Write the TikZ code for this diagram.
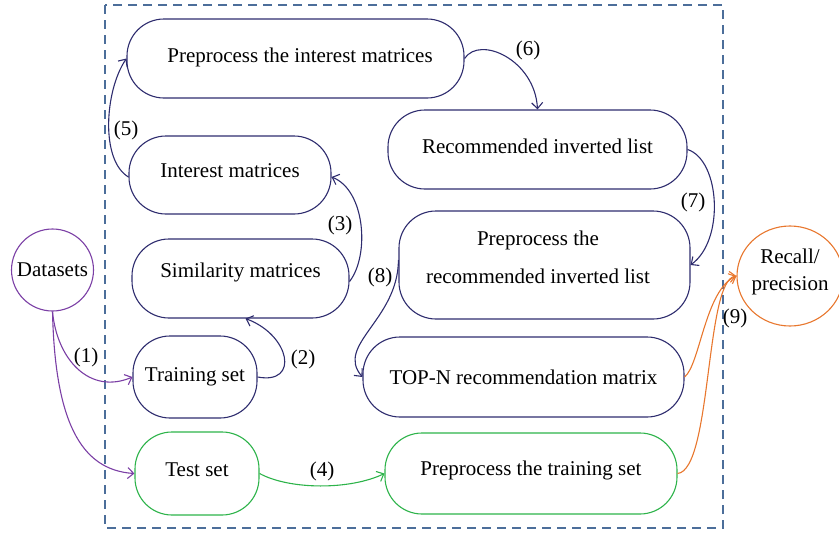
\documentclass[tikz,border=0pt]{standalone}
\usepackage{fontspec}
\setmainfont{Liberation Serif}
\usetikzlibrary{arrows.meta,shapes.geometric}
\definecolor{navy}{HTML}{2E2C6E}
\definecolor{grn}{HTML}{2DB34A}
\definecolor{purp}{HTML}{7B3FA5}
\definecolor{orng}{HTML}{E8772E}
\definecolor{dashc}{HTML}{4C6E9A}
\tikzset{
  box/.style={draw=#1, line width=1.1pt, rounded corners=37pt, inner sep=0pt},
  txt/.style={inner sep=0pt, align=center, font=\fontsize{21}{38}\selectfont, text=black},
  lbl/.style={inner sep=0pt, font=\fontsize{21}{25}\selectfont, text=black},
  conn/.style={draw=#1, line width=1.1pt, -{Straight Barb[length=6pt,width=11pt]}},
}
\begin{document}
\begin{tikzpicture}[x=1pt,y=-1pt]
\useasboundingbox (0,0) rectangle (839,533);
% dashed frame
\draw[dashc, line width=1.2pt, dash pattern=on 9pt off 6pt] (105,5) rectangle (723,528);
% boxes
\node[box=navy, minimum width=337pt, minimum height=79pt] (pim) at (295.5,58.5) {};
\node[txt] (pimt) at (300,57) {Preprocess the interest matrices};
\node[box=navy, minimum width=202pt, minimum height=78pt] (im) at (230,175) {};
\node[txt] (imt) at (230,171) {Interest matrices};
\node[box=navy, minimum width=217pt, minimum height=79pt] (sm) at (240.5,278.5) {};
\node[txt] (smt) at (240.5,272) {Similarity matrices};
\node[box=navy, minimum width=124pt, minimum height=82pt] (trs) at (195,377) {};
\node[txt] (trst) at (195,377) {Training set};
\node[box=grn, minimum width=124pt, minimum height=83pt] (tst) at (197,473.5) {};
\node[txt] (tstt) at (197,470) {Test set};
\node[box=navy, minimum width=299pt, minimum height=79pt] (ril) at (537.5,149.5) {};
\node[txt] (rilt) at (537.5,146) {Recommended inverted list};
\node[box=navy, minimum width=291pt, minimum height=108pt] (prl) at (544.5,265) {};
\node[txt] (prlt) at (538,257) {Preprocess the\\recommended inverted list};
\node[box=navy, minimum width=321pt, minimum height=80pt] (top) at (523.5,377) {};
\node[txt] (topt) at (523.5,377) {TOP-N recommendation matrix};
\node[box=grn, minimum width=292pt, minimum height=81pt] (pts) at (531,473.5) {};
\node[txt] (ptst) at (531,470) {Preprocess the training set};
% circles
\node[draw=purp, line width=1.1pt, circle, minimum size=82pt, inner sep=0pt] (ds) at (52.5,270) {};
\node[txt] (dst) at (52.5,270) {Datasets};
\node[draw=orng, line width=1.1pt, ellipse, minimum width=106pt, minimum height=100pt, inner sep=0pt] (rp) at (790,276) {};
\node[txt, font=\fontsize{21}{27}\selectfont] (rpt) at (790,272) {Recall/\\precision};
% connectors
\draw[conn=purp] (ds.south) .. controls (57,360) and (90,395) .. (trs.west);
\draw[conn=purp] (ds.south) .. controls (55,420) and (80,470) .. (tst.west);
\draw[conn=navy] (trs.east) .. controls (300,385) and (290,335) .. ([xshift=5pt]sm.south);
\draw[conn=navy] ([yshift=-3pt]sm.east) .. controls (370,255) and (365,190) .. ([yshift=-2pt]im.east);
\draw[conn=grn] (tst.east) .. controls (290,490) and (350,490) .. (pts.west);
\draw[conn=navy] ([yshift=-2pt]im.west) .. controls (100,160) and (105,90) .. (pim.west);
\draw[conn=navy] (pim.east) .. controls (480,35) and (535,60) .. (ril.north);
\draw[conn=navy] (ril.east) .. controls (720,160) and (725,240) .. (prl.east);
\draw[conn=navy] ([yshift=5pt]prl.west) .. controls (398,320) and (335,345) .. (top.west);
\draw[conn=orng] (top.east) .. controls (700,365) and (705,290) .. (rp.west);
\draw[conn=orng] (pts.east) .. controls (712,470) and (705,280) .. (rp.west);
% labels
\node[lbl] (l1) at (86,357) {(1)};
\node[lbl] (l2) at (303,359) {(2)};
\node[lbl] (l3) at (340,225) {(3)};
\node[lbl] (l4) at (322,471) {(4)};
\node[lbl] (l5) at (126,130) {(5)};
\node[lbl] (l6) at (528,50) {(6)};
\node[lbl] (l7) at (693,202) {(7)};
\node[lbl] (l8) at (380,277) {(8)};
\node[lbl] (l9) at (735,318) {(9)};
\end{tikzpicture}
\end{document}
